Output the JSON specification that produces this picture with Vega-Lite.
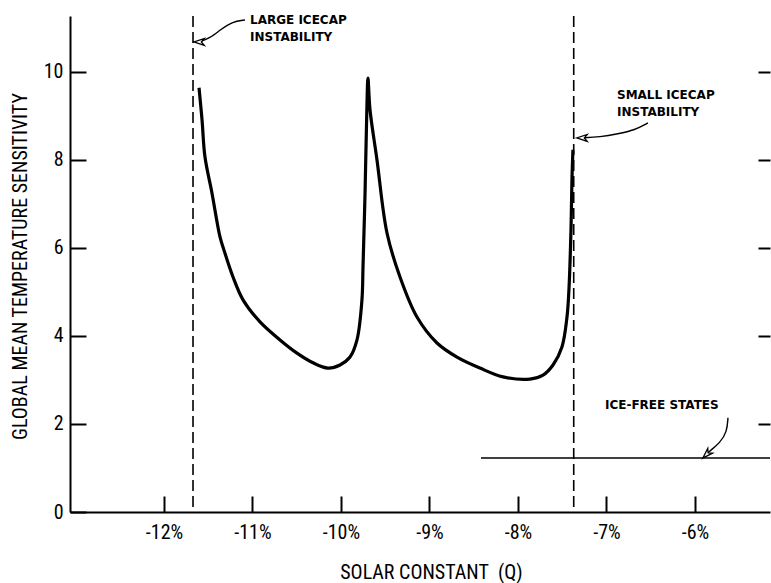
{
  "$schema": "https://vega.github.io/schema/vega-lite/v6.json",
  "width": 700,
  "height": 496,
  "autosize": {"type": "none"},
  "padding": {"left": 70, "top": 16, "right": 1, "bottom": 71},
  "background": "white",
  "config": {
    "view": {"stroke": null},
    "axis": {"grid": false, "domainColor": "black", "tickColor": "black", "labelColor": "black", "titleColor": "black"}
  },
  "datasets": {
    "sensitivity": [
      {"q": -11.604, "s": 9.64}, {"q": -11.570, "s": 8.91}, {"q": -11.537, "s": 8.07},
      {"q": -11.458, "s": 7.25}, {"q": -11.367, "s": 6.25}, {"q": -11.322, "s": 5.95},
      {"q": -11.220, "s": 5.34}, {"q": -11.107, "s": 4.82}, {"q": -10.915, "s": 4.32},
      {"q": -10.689, "s": 3.91}, {"q": -10.497, "s": 3.61}, {"q": -10.316, "s": 3.39},
      {"q": -10.147, "s": 3.27}, {"q": -10.011, "s": 3.34}, {"q": -9.898, "s": 3.52},
      {"q": -9.819, "s": 3.91}, {"q": -9.763, "s": 4.82}, {"q": -9.751, "s": 5.57},
      {"q": -9.728, "s": 7.25}, {"q": -9.706, "s": 9.30}, {"q": -9.695, "s": 9.86},
      {"q": -9.672, "s": 9.14}, {"q": -9.593, "s": 8.00}, {"q": -9.480, "s": 6.34},
      {"q": -9.333, "s": 5.34}, {"q": -9.141, "s": 4.43}, {"q": -8.915, "s": 3.84},
      {"q": -8.689, "s": 3.52}, {"q": -8.429, "s": 3.27}, {"q": -8.169, "s": 3.07},
      {"q": -7.864, "s": 3.02}, {"q": -7.717, "s": 3.11}, {"q": -7.604, "s": 3.34},
      {"q": -7.503, "s": 3.75}, {"q": -7.446, "s": 4.43}, {"q": -7.424, "s": 5.05},
      {"q": -7.401, "s": 6.41}, {"q": -7.390, "s": 7.55}, {"q": -7.379, "s": 8.23}
    ],
    "instabilities": [{"name": "large icecap", "q": -11.672}, {"name": "small icecap", "q": -7.37}],
    "iceFree": [{"q": -8.418, "q2": -5.152, "s": 1.227}],
    "arrows": [
      {"arrow": "large", "seq": 0, "q": -11.085, "s": 11.18},
      {"arrow": "large", "seq": 1, "q": -11.232, "s": 11.14},
      {"arrow": "large", "seq": 2, "q": -11.367, "s": 10.95},
      {"arrow": "large", "seq": 3, "q": -11.480, "s": 10.77},
      {"arrow": "large", "seq": 4, "q": -11.604, "s": 10.68},
      {"arrow": "small", "seq": 0, "q": -6.531, "s": 8.84},
      {"arrow": "small", "seq": 1, "q": -6.678, "s": 8.68},
      {"arrow": "small", "seq": 2, "q": -6.870, "s": 8.59},
      {"arrow": "small", "seq": 3, "q": -7.073, "s": 8.52},
      {"arrow": "small", "seq": 4, "q": -7.277, "s": 8.50},
      {"arrow": "icefree", "seq": 0, "q": -5.627, "s": 2.14},
      {"arrow": "icefree", "seq": 1, "q": -5.638, "s": 1.82},
      {"arrow": "icefree", "seq": 2, "q": -5.718, "s": 1.57},
      {"arrow": "icefree", "seq": 3, "q": -5.831, "s": 1.39},
      {"arrow": "icefree", "seq": 4, "q": -5.870, "s": 1.31}
    ],
    "heads": [
      {"arrow": "large", "q": -11.604, "s": 10.68, "dir": 180},
      {"arrow": "small", "q": -7.277, "s": 8.50, "dir": 180},
      {"arrow": "icefree", "q": -5.870, "s": 1.307, "dir": 135}
    ],
    "notes": [
      {"text": "LARGE ICECAP", "q": -11.028, "s": 11.18},
      {"text": "INSTABILITY", "q": -11.028, "s": 10.80},
      {"text": "SMALL ICECAP", "q": -6.881, "s": 9.48},
      {"text": "INSTABILITY", "q": -6.881, "s": 9.09},
      {"text": "ICE-FREE STATES", "q": -7.017, "s": 2.43}
    ]
  },
  "layer": [
    {
      "data": {"name": "sensitivity"},
      "mark": {"type": "line", "color": "black", "strokeWidth": 3.2, "strokeJoin": "round", "strokeCap": "butt", "interpolate": "catmull-rom"},
      "encoding": {
        "x": {
          "field": "q", "type": "quantitative",
          "scale": {"domain": [-13.062, -5.152], "nice": false, "zero": false},
          "axis": {
            "orient": "bottom",
            "values": [-12, -11, -10, -9, -8, -7, -6],
            "labelExpr": "'-' + abs(datum.value) + '%'",
            "tickSize": -16, "tickWidth": 2, "domainWidth": 2,
            "labelPadding": 26, "labelFont": "Roboto Condensed, DejaVu Sans Condensed, Liberation Sans, sans-serif", "labelFontSize": 20,
            "title": "SOLAR CONSTANT\u00a0\u00a0(Q)",
            "titleFont": "Roboto Condensed, DejaVu Sans Condensed, Liberation Sans, sans-serif", "titleFontSize": 20, "titleFontWeight": "normal",
            "titleX": 361, "titleY": 60, "titleBaseline": "middle", "titleAnchor": "middle"
          }
        },
        "y": {
          "field": "s", "type": "quantitative",
          "scale": {"domain": [0, 11.27], "nice": false, "zero": true},
          "axis": {
            "orient": "left",
            "values": [0, 2, 4, 6, 8, 10],
            "tickSize": -16, "tickWidth": 2, "domainWidth": 2,
            "labelPadding": 23, "labelFont": "Roboto Condensed, DejaVu Sans Condensed, Liberation Sans, sans-serif", "labelFontSize": 20,
            "title": "GLOBAL MEAN TEMPERATURE SENSITIVITY",
            "titleFont": "Roboto Condensed, DejaVu Sans Condensed, Liberation Sans, sans-serif", "titleFontSize": 20, "titleFontWeight": "normal",
            "titleX": -50, "titleY": 250, "titleAngle": -90, "titleBaseline": "middle", "titleAlign": "center"
          }
        }
      }
    },
    {
      "data": {"name": "iceFree"},
      "mark": {"type": "rule", "color": "black", "strokeWidth": 1.5},
      "encoding": {
        "x": {"field": "q", "type": "quantitative"},
        "x2": {"field": "q2"},
        "y": {
          "field": "s", "type": "quantitative",
          "axis": {
            "orient": "right", "values": [2, 4, 6, 8, 10],
            "tickSize": -12, "tickWidth": 2, "domain": false, "labels": false, "title": null
          }
        }
      }
    },
    {
      "data": {"name": "instabilities"},
      "mark": {"type": "rule", "color": "black", "strokeWidth": 1.6, "strokeDash": [11, 5]},
      "encoding": {
        "x": {"field": "q", "type": "quantitative"}
      }
    },
    {
      "data": {"name": "arrows"},
      "mark": {"type": "line", "color": "black", "strokeWidth": 1.4, "interpolate": "basis"},
      "encoding": {
        "x": {"field": "q", "type": "quantitative"},
        "y": {"field": "s", "type": "quantitative", "axis": null},
        "detail": {"field": "arrow"},
        "order": {"field": "seq"}
      }
    },
    {
      "data": {"name": "heads"},
      "mark": {
        "type": "point", "filled": true, "fill": "white", "stroke": "black", "strokeWidth": 1.3,
        "opacity": 1, "size": 110,
        "shape": "M1,0 L-1,-0.65 L-0.45,0 L-1,0.65 Z"
      },
      "encoding": {
        "x": {"field": "q", "type": "quantitative"},
        "y": {"field": "s", "type": "quantitative", "axis": null},
        "angle": {"field": "dir", "type": "quantitative", "scale": null}
      }
    },
    {
      "data": {"name": "notes"},
      "mark": {"type": "text", "align": "left", "baseline": "middle", "font": "DejaVu Sans", "fontWeight": "bold", "fontSize": 12, "color": "black"},
      "encoding": {
        "x": {"field": "q", "type": "quantitative"},
        "y": {"field": "s", "type": "quantitative", "axis": null},
        "text": {"field": "text"}
      }
    }
  ],
  "resolve": {"axis": {"y": "independent"}}
}
